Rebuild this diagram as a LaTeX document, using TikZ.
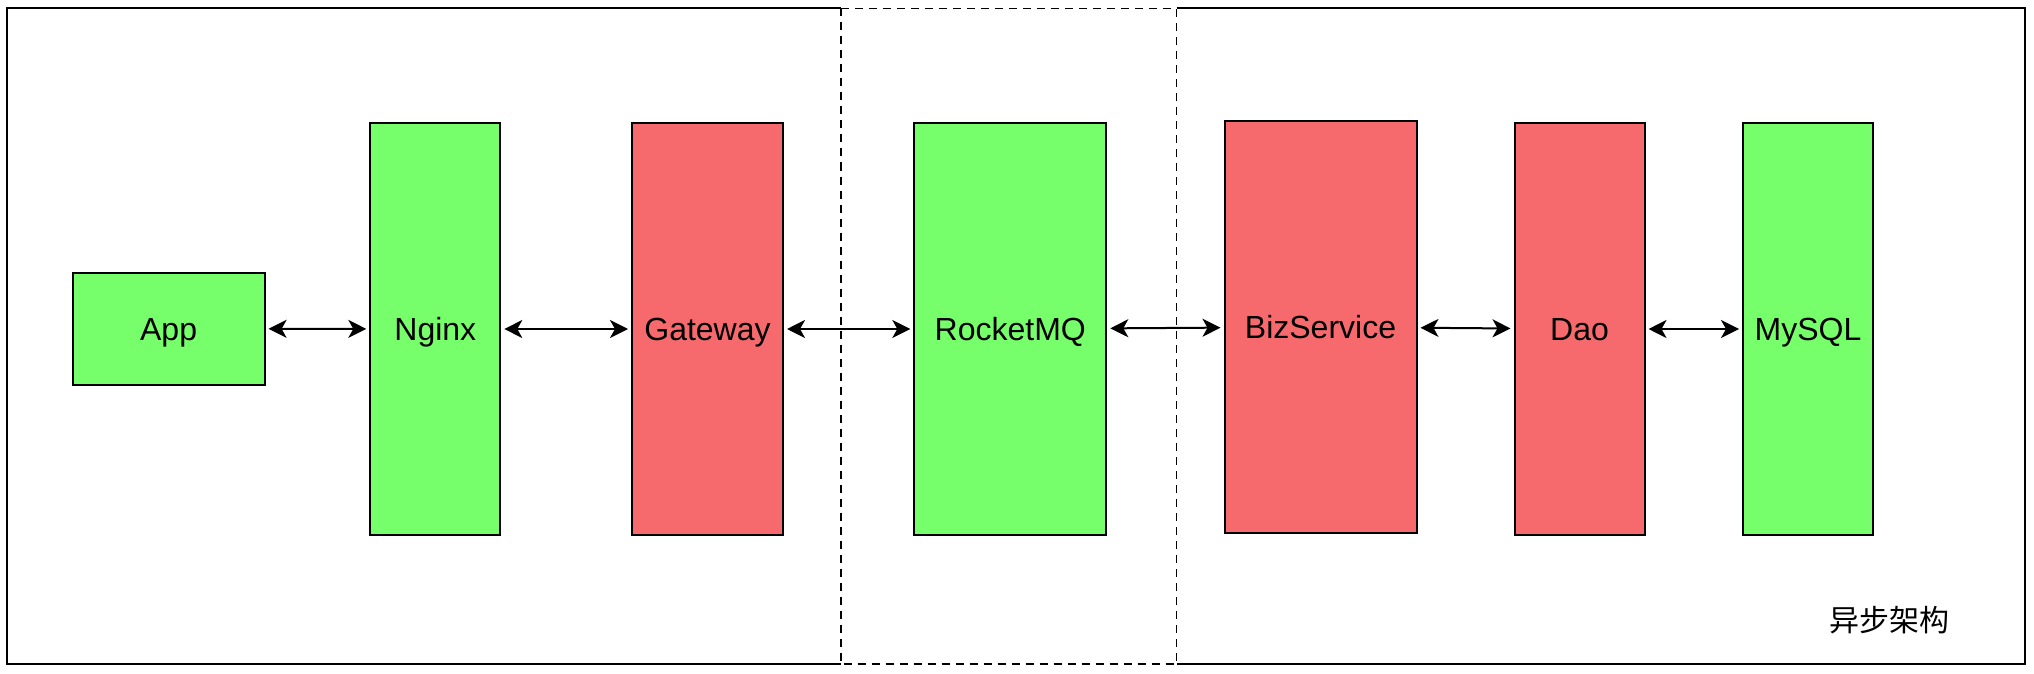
\documentclass[tikz,border=0pt]{standalone}
\usepackage{fontspec}
\setmainfont{Liberation Sans}
\newfontfamily\cjk{Noto Sans CJK SC}
\usetikzlibrary{arrows.meta}

\definecolor{boxgreen}{RGB}{118,255,106}
\definecolor{boxred}{RGB}{246,106,110}

\tikzset{
    part/.style={draw=black,line width=1pt,inner sep=0pt,outer sep=2pt,
        text height=11.5pt,text depth=0pt,
        font=\fontsize{16}{19}\selectfont},
    greenpart/.style={part,fill=boxgreen},
    redpart/.style={part,fill=boxred},
    link/.style={<->,line width=1pt}
}

\begin{document}
\begin{tikzpicture}[x=0.5pt,y=-0.5pt,>={Stealth[length=9pt,width=9pt,inset=2.5pt]}]
        \useasboundingbox (0,0) rectangle (2034,674);
        % frame, middle part dashed
        \draw[line width=1pt] (841,8.5) -- (7,8.5) -- (7,664) -- (841,664);
        \draw[line width=1pt] (1176.5,8.5) -- (2025,8.5) -- (2025,664) -- (1176.5,664);
        \draw[line width=0.7pt,dash pattern=on 4pt off 3pt] (841,8.5) rectangle (1176.5,664);
        % boxes
        \node[greenpart,minimum width=96pt,minimum height=56pt] (app) at (168.6,328.7) {App};
        \node[greenpart,minimum width=65pt,minimum height=206pt] (nginx) at (435.3,329) {Nginx};
        \node[redpart,minimum width=75.5pt,minimum height=206pt] (gateway) at (707.5,329) {Gateway};
        \node[greenpart,minimum width=96pt,minimum height=206pt] (mq) at (1010.3,329) {RocketMQ};
        \node[redpart,minimum width=96pt,minimum height=206pt] (biz) at (1320.5,327) {BizService};
        \node[redpart,minimum width=65pt,minimum height=206pt] (dao) at (1579.5,329) {Dao};
        \node[greenpart,minimum width=65pt,minimum height=206pt] (mysql) at (1808,329) {MySQL};
        % links
        \draw[link] (app) -- (nginx);
        \draw[link] (nginx) -- (gateway);
        \draw[link] (gateway) -- (mq);
        \draw[link] (mq) -- (biz);
        \draw[link] (biz) -- (dao);
        \draw[link] (dao) -- (mysql);
        \node[font=\cjk\fontsize{15}{18}\selectfont] (title) at (1889,620) {异步架构};
    \end{tikzpicture}
\end{document}
